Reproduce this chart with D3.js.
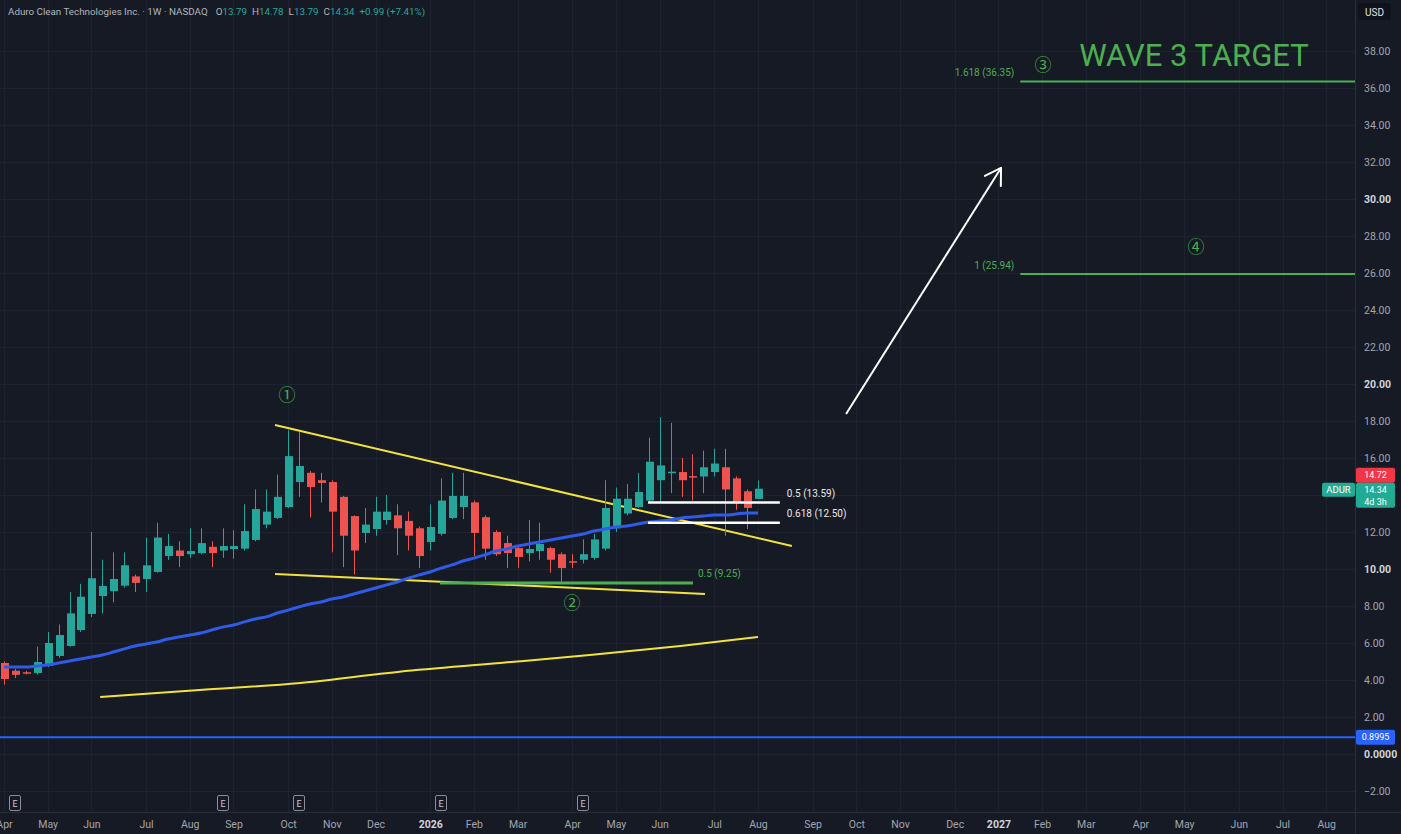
<!DOCTYPE html>
<html><head><meta charset="utf-8">
<script src="https://cdn.jsdelivr.net/npm/d3@7"></script>
<style>
html,body{margin:0;padding:0;background:#161a25;overflow:hidden}
svg{display:block;font-family:Roboto,"Noto Sans",sans-serif}
</style></head><body>
<svg id="c" width="1401" height="834"></svg>
<script>
// ---------- DATA ----------
const startDate = Date.UTC(2025, 3, 7); // first weekly bar (Monday)
const opens  = [4.92,4.5,4.42,4.38,4.76,5.3,5.84,6.7,7.57,8.54, 8.8,9.1,9.6,9.46,9.84,10.7,11.0,10.8,10.86,11.2, 11.0,11.08,11.1,11.57,12.4,12.76,13.35,14.7,15.2,14.8, 14.7,13.9,12.86,11.95,12.16,12.65,12.9,12.6,12.2,11.46, 11.9,12.76,13.35,13.6,12.8,12.0,11.4,11.13,10.86,10.97, 11.13,10.8,10.42,10.5,10.6,11.1,12.2,13.0,13.35,13.7, 14.8,15.2,15.24,15.02,15.0,15.24,15.5,14.9,14.2,13.79];
const highs  = [5.0,4.6,4.5,5.8,6.6,7.0,8.75,9.2,12.0,10.5, 10.9,10.9,9.7,11.7,12.5,11.9,11.5,12.2,12.2,11.5, 12.2,12.1,13.5,14.3,14.3,15.1,17.5,17.4,15.3,15.2, 14.8,13.95,12.9,13.3,13.9,14.0,13.5,13.1,12.3,13.5, 14.9,15.2,15.2,13.7,12.9,12.1,11.8,11.3,12.65,12.5, 11.2,10.9,10.8,11.6,11.9,14.8,14.4,14.6,15.2,17.1, 18.2,17.9,16.0,16.2,16.4,16.5,16.5,15.0,14.3,14.78];
const lows   = [3.75,4.1,4.3,4.3,4.7,5.2,5.8,6.6,7.4,7.6, 8.2,9.0,8.75,8.75,9.8,10.5,10.1,10.6,10.8,10.1, 10.6,10.55,11.0,11.5,12.2,12.7,13.3,13.9,12.8,13.6, 10.9,10.1,9.7,11.4,11.8,12.4,10.75,11.0,10.05,11.0, 11.8,12.7,12.7,10.7,10.5,10.7,10.05,10.05,10.4,10.5, 9.8,9.3,10.05,10.3,10.5,11.0,12.0,12.9,13.3,13.6, 13.6,14.1,13.9,13.7,14.1,15.0,11.8,13.2,12.16,13.79];
const closes = [4.05,4.28,4.36,4.97,6.0,6.43,7.6,8.5,9.5,9.08, 9.46,10.2,9.25,10.2,11.7,11.24,10.7,10.97,11.4,10.86, 11.24,11.24,12.05,13.24,13.1,13.9,16.1,15.57,14.43,14.65, 13.1,11.8,11.0,12.4,13.1,13.1,12.2,11.8,10.7,12.27, 13.7,13.95,13.95,11.95,11.1,10.8,10.86,10.65,11.08,11.35, 10.5,10.05,10.36,10.8,11.6,13.3,13.8,13.8,14.16,15.8, 15.6,15.26,14.8,14.98,15.5,15.7,14.3,13.57,13.3,14.34];
// blue moving average (one value per bar)
const maBlue = [4.70,4.70,4.70,4.76,4.81,4.92,5.03,5.14,5.24,5.35, 5.51,5.68,5.84,5.95,6.05,6.22,6.32,6.43,6.54,6.70, 6.86,6.97,7.14,7.30,7.41,7.62,7.78,7.95,8.11,8.22, 8.38,8.49,8.65,8.81,8.97,9.14,9.30,9.51,9.68,9.84, 10.05,10.22,10.43,10.59,10.76,10.97,11.08,11.24,11.35,11.46, 11.57,11.68,11.78,11.89,12.05,12.16,12.27,12.32,12.43,12.54, 12.59,12.65,12.76,12.81,12.86,12.92,12.92,12.97,13.03,13.03];
// lower yellow curve: [bar index, price]
const yellowCurve = [[8.8,3.08],[17.9,3.46],[27.1,3.84],[36.2,4.45],[45.4,4.92],[53.6,5.35],[61.9,5.84],[69.0,6.32]];
// yellow trend lines: [[i0,p0],[i1,p1]]
const trendUpper = [[24.8,17.78],[72.1,11.24]];
const trendLower = [[24.8,9.73],[64.15,8.65]];
// fib levels
const fibWhite = [{label:"0.5 (13.59)", price:13.59},{label:"0.618 (12.50)", price:12.50}];
const fibWhiteRange = [58.94, 71.0];
const fibGreenLow = {label:"0.5 (9.25)", price:9.25, from:39.9, to:63.05};
const fibTargets = [{label:"1.618 (36.35)", price:36.35},{label:"1 (25.94)", price:25.94}];
const fibTargetFrom = 93.0;
const waveLabels = [{t:"①",i:25.9,p:19.51},{t:"②",i:51.98,p:8.27},{t:"③",i:95.08,p:37.35},{t:"④",i:109.09,p:27.51}];
const arrowPts = [[77.06,18.38],[91.24,31.68]];
const blueLevel = 0.8995;
const earnings = [1,20,27,40,53];
const priceTicks = [-2,0,2,4,6,8,10,12,14,16,18,20,22,24,26,28,30,32,34,36,38];
const lastHigh = 14.72, lastClose = 14.34;

// ---------- SCALES ----------
const svg = d3.select("#c");
const plotR = 1355, plotB = 812;
const x = d3.scaleLinear().domain([0,69]).range([4,758]);
const y = d3.scaleLinear().domain([0,38]).range([754,51]);
const week = 7*864e5;
const months = d3.utcMonths(Date.UTC(2025,3,1), Date.UTC(2027,8,1));
const mTicks = months.map(d => ({i:(d3.utcMonday.ceil(d) - startDate)/week, d}));
const tickIdx = mTicks.map(t=>t.i);
const labelOf = new Map(mTicks.map(t=>[t.i, t.d.getUTCMonth()===0 ? String(t.d.getUTCFullYear()) : d3.utcFormat("%b")(t.d)]));

svg.append("rect").attr("width",1401).attr("height",834).attr("fill","#161a25");

// grid
const grid = svg.append("g").attr("stroke","#1f2331").attr("stroke-width",1);
grid.selectAll("line.h").data(priceTicks).join("line").attr("x1",0).attr("x2",plotR)
  .attr("y1",d=>Math.round(y(d))+0.5).attr("y2",d=>Math.round(y(d))+0.5);
grid.selectAll("line.v").data(tickIdx).join("line").attr("y1",0).attr("y2",plotB)
  .attr("x1",d=>Math.round(x(d))+0.5).attr("x2",d=>Math.round(x(d))+0.5);

// axis separators
svg.append("line").attr("x1",plotR+0.5).attr("x2",plotR+0.5).attr("y1",0).attr("y2",834).attr("stroke","#2a2e39");
svg.append("line").attr("x1",0).attr("x2",1401).attr("y1",plotB+0.5).attr("y2",plotB+0.5).attr("stroke","#2a2e39");

const line = d3.line().x(d=>x(d[0])).y(d=>y(d[1]));

// blue level line
svg.append("line").attr("x1",0).attr("x2",plotR).attr("y1",y(blueLevel)).attr("y2",y(blueLevel))
  .attr("stroke","#2962ff").attr("stroke-width",2);

// lower yellow curve
svg.append("path").datum(yellowCurve).attr("d",line.curve(d3.curveMonotoneX))
  .attr("fill","none").attr("stroke","#f2e33c").attr("stroke-width",2);
line.curve(d3.curveLinear);

// trend lines
[trendUpper, trendLower].forEach(t=>{
  svg.append("path").datum(t).attr("d",line).attr("fill","none").attr("stroke","#f2e33c").attr("stroke-width",2);
});

// green 0.5 fib
svg.append("line").attr("x1",x(fibGreenLow.from)).attr("x2",x(fibGreenLow.to))
  .attr("y1",y(fibGreenLow.price)).attr("y2",y(fibGreenLow.price))
  .attr("stroke","#4caf50").attr("stroke-width",3);
svg.append("text").attr("x",x(fibGreenLow.to)+5).attr("y",y(fibGreenLow.price)-9)
  .attr("dominant-baseline","middle").attr("fill","#4caf50").attr("font-size",10).text(fibGreenLow.label);

// candles
const data = opens.map((o,i)=>({i,o,h:highs[i],l:lows[i],c:closes[i]}));
const cg = svg.append("g");
const col = d => d.c >= d.o ? "#26a69a" : "#ef5350";
cg.selectAll("line").data(data).join("line")
  .attr("x1",d=>Math.round(x(d.i))+0.5).attr("x2",d=>Math.round(x(d.i))+0.5)
  .attr("y1",d=>y(d.h)).attr("y2",d=>y(d.l)).attr("stroke",col).attr("stroke-width",1);
cg.selectAll("rect").data(data).join("rect")
  .attr("x",d=>Math.round(x(d.i))-3).attr("width",8)
  .attr("y",d=>y(Math.max(d.o,d.c))).attr("height",d=>Math.max(1.5,Math.abs(y(d.o)-y(d.c))))
  .attr("fill",col);

// blue MA
svg.append("path").datum(maBlue.map((v,i)=>[i,v])).attr("d",line.curve(d3.curveMonotoneX))
  .attr("fill","none").attr("stroke","#2f5be8").attr("stroke-width",3);
line.curve(d3.curveLinear);

// white fib lines
fibWhite.forEach(f=>{
  svg.append("line").attr("x1",x(fibWhiteRange[0])).attr("x2",x(fibWhiteRange[1]))
    .attr("y1",y(f.price)).attr("y2",y(f.price)).attr("stroke","#ffffff").attr("stroke-width",2.5);
  svg.append("text").attr("x",x(fibWhiteRange[1])+7).attr("y",y(f.price)-8)
    .attr("dominant-baseline","middle").attr("fill","#e8e8e8").attr("font-size",10).text(f.label);
});

// target fib lines
fibTargets.forEach(f=>{
  svg.append("line").attr("x1",x(fibTargetFrom)).attr("x2",plotR)
    .attr("y1",y(f.price)).attr("y2",y(f.price)).attr("stroke","#4caf50").attr("stroke-width",2);
  svg.append("text").attr("x",x(fibTargetFrom)-6).attr("y",y(f.price)-8).attr("text-anchor","end")
    .attr("dominant-baseline","middle").attr("fill","#4caf50").attr("font-size",10).text(f.label);
});

// wave labels
svg.selectAll("text.wave").data(waveLabels).join("text").attr("class","wave")
  .attr("x",d=>x(d.i)).attr("y",d=>y(d.p)).attr("text-anchor","middle").attr("dominant-baseline","central")
  .attr("font-family","'Noto Sans CJK SC','DejaVu Sans',sans-serif").attr("font-size",17)
  .attr("fill","#4caf50").text(d=>d.t);

// WAVE 3 TARGET
svg.append("text").attr("x",x(108.9)).attr("y",y(37.78)).attr("text-anchor","middle").attr("dominant-baseline","central")
  .attr("font-size",31).attr("fill","#4caf50").attr("font-family","Roboto,sans-serif").text("WAVE 3 TARGET");

// arrow
const [a0,a1] = arrowPts.map(p=>[x(p[0]),y(p[1])]);
svg.append("line").attr("x1",a0[0]).attr("y1",a0[1]).attr("x2",a1[0]).attr("y2",a1[1]).attr("stroke","#fff").attr("stroke-width",2);
const ang = Math.atan2(a1[1]-a0[1], a1[0]-a0[0]);
[ang+Math.PI-0.55, ang+Math.PI+0.55].forEach(a=>{
  svg.append("line").attr("x1",a1[0]).attr("y1",a1[1]).attr("x2",a1[0]+18*Math.cos(a)).attr("y2",a1[1]+18*Math.sin(a))
    .attr("stroke","#fff").attr("stroke-width",2).attr("stroke-linecap","round");
});

// earnings markers
const eg = svg.selectAll("g.e").data(earnings).join("g").attr("class","e")
  .attr("transform",d=>`translate(${Math.round(x(d))},803)`);
eg.append("rect").attr("x",-5.5).attr("y",-7.5).attr("width",11).attr("height",15).attr("rx",1.5)
  .attr("fill","#161a25").attr("stroke","#8a8d96").attr("stroke-width",1);
eg.append("text").attr("text-anchor","middle").attr("dominant-baseline","central").attr("font-size",9)
  .attr("fill","#c9cbd1").attr("y",0.5).text("E");

// x axis
const xa = svg.append("g").attr("transform",`translate(0,${plotB})`)
  .call(d3.axisBottom(x).tickValues(tickIdx).tickSize(0).tickPadding(9).tickFormat(d=>labelOf.get(d)));
xa.select(".domain").remove();
xa.selectAll("text").attr("font-size",10.5).attr("font-family","Roboto,sans-serif")
  .attr("fill",d=>/^\d/.test(labelOf.get(d))?"#d1d4dc":"#a3a6af")
  .attr("font-weight",d=>/^\d/.test(labelOf.get(d))?"bold":"normal");

// axis tag areas (pixel spans) — tick labels underneath are hidden like in TradingView
const tagSpans = [
  [y(lastHigh)-14, y(lastClose)-6+25],
  [y(blueLevel)-7.5, y(blueLevel)+7.5]
];
const hidden = v => tagSpans.some(([a,b]) => y(v) > a-4 && y(v) < b+4);

// price axis
const ya = svg.append("g").attr("transform",`translate(${plotR},0)`)
  .call(d3.axisRight(y).tickValues(priceTicks).tickSize(0).tickPadding(9)
    .tickFormat(d=> d===0 ? "0.0000" : (d<0?"\u2212":"")+Math.abs(d).toFixed(2)));
ya.select(".domain").remove();
ya.selectAll("text").attr("font-size",10.5).attr("font-family","Roboto,sans-serif")
  .attr("fill",d=>(d%10===0)?"#d1d4dc":"#a3a6af").attr("font-weight",d=>(d%10===0)?"bold":"normal")
  .attr("display",d=>hidden(d)?"none":null);

// axis tags
function tag(top, bg, lines, h){
  const g = svg.append("g").attr("transform",`translate(${plotR+1},${top})`);
  g.append("rect").attr("x",0).attr("y",0).attr("width",39).attr("height",h).attr("rx",2).attr("fill",bg);
  lines.forEach((t,k)=>g.append("text").attr("x",19.5).attr("y",7.5+k*11.5).attr("text-anchor","middle")
    .attr("dominant-baseline","central").attr("font-size",9).attr("fill","#fff").text(t));
  return g;
}
tag(y(blueLevel)-7.5,"#2962ff",[d3.format(".4f")(blueLevel)],15);
tag(y(lastHigh)-14,"#f23645",[lastHigh.toFixed(2)],15);
tag(y(lastClose)-6,"#22ab94",[lastClose.toFixed(2),"4d 3h"],25);
// ticker tag
const tk = svg.append("g").attr("transform",`translate(${plotR-33},${y(lastClose)-6})`);
tk.append("rect").attr("x",0).attr("y",0).attr("width",33).attr("height",14).attr("rx",2).attr("fill","#22ab94");
tk.append("text").attr("x",16.5).attr("y",7).attr("text-anchor","middle").attr("dominant-baseline","central")
  .attr("font-size",9.5).attr("fill","#fff").text("ADUR");

// USD box
svg.append("rect").attr("x",1358).attr("y",3).attr("width",33).attr("height",17).attr("rx",2).attr("fill","#0f121a");
svg.append("text").attr("x",1374.5).attr("y",12).attr("text-anchor","middle").attr("dominant-baseline","central")
  .attr("font-size",10).attr("fill","#e0e3eb").text("USD");

// header
const hd = svg.append("text").attr("x",8).attr("y",11).attr("dominant-baseline","central").attr("font-size",9.8)
  .attr("font-family","Roboto,sans-serif").attr("fill","#b2b5be");
const last = data[data.length-1];
hd.append("tspan").text("Aduro Clean Technologies Inc. · 1W · NASDAQ");
[["O",last.o],["H",last.h],["L",last.l],["C",last.c]].forEach(([k,v],n)=>{
  hd.append("tspan").attr("dx",n===0?8:5).text(k);
  hd.append("tspan").attr("fill","#26a69a").text(v.toFixed(2));
});
hd.append("tspan").attr("dx",5).attr("fill","#26a69a").text("+0.99 (+7.41%)");
</script>
</body></html>
